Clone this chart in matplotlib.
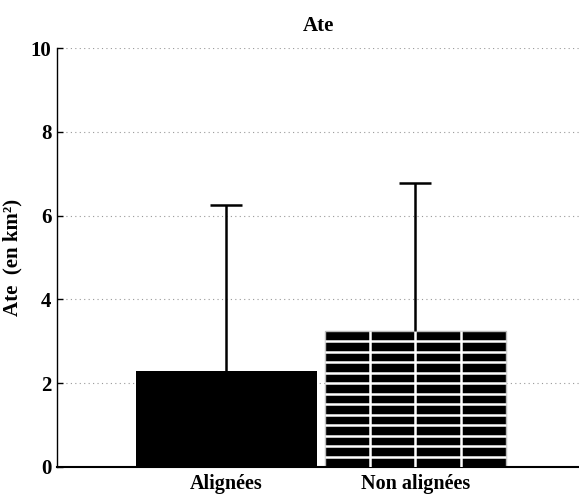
import matplotlib.pyplot as plt
import numpy as np

plt.rcParams['font.family'] = ['Liberation Serif', 'DejaVu Serif']
plt.rcParams['font.weight'] = 'bold'

categories = ['Alignées', 'Non alignées']
means = [2.29, 3.25]
errors = [3.96, 3.53]   # upper error only
yticks = [0, 2, 4, 6, 8, 10]

fig = plt.figure(figsize=(5.79, 4.96), dpi=100)
ax = fig.add_axes([0.0984, 0.0585, 0.9016, 0.8447])

x = np.arange(1, len(categories) + 1)
width = 0.958

ax.bar(x[0], means[0], width, color='black', zorder=2)
ax.bar(x[1], means[1], width, color='black', edgecolor='#bbbbbb', linewidth=1, zorder=2)

# brick-like hatch on second bar: white grid lines every 0.25 units / quarter width
left = x[1] - width / 2
for k in np.arange(0.25, means[1], 0.25):
    ax.plot([left, left + width], [k, k], color='white', lw=1.8, zorder=3, solid_capstyle='butt')
for j in range(1, 4):
    xv = left + j * width / 4
    ax.plot([xv, xv], [0, means[1]], color='white', lw=1.8, zorder=3, solid_capstyle='butt')

# upper-only error bars
tops = np.array(means) + np.array(errors)
ax.vlines(x, means, tops, color='black', lw=1.8, zorder=4)
ax.hlines(tops, x - 0.085, x + 0.085, color='black', lw=1.8, zorder=4)

ax.set_xlim(0.105, 2.865)
ax.set_ylim(0, 10)
ax.set_yticks(yticks)
ax.set_xticks(x)
ax.set_xticklabels(categories, fontsize=14.5, fontweight='bold')
ax.set_yticklabels([str(t) for t in yticks], fontsize=15, fontweight='bold')
ax.tick_params(axis='y', direction='in', length=4, width=1, pad=4)
ax.tick_params(axis='x', length=0, pad=5)

ax.yaxis.grid(True, linestyle=(0, (1, 3)), color='#999999', linewidth=0.8, zorder=0)
ax.set_axisbelow(True)
for s in ['top', 'right']:
    ax.spines[s].set_visible(False)
ax.spines['left'].set_linewidth(1)
ax.spines['bottom'].set_linewidth(1.5)

ax.set_title('Ate', fontsize=15, fontweight='bold', pad=12)
ax.set_ylabel('Ate  (en km²)', fontsize=15, fontweight='bold', labelpad=6)

fig.savefig('out.png', dpi=100)
